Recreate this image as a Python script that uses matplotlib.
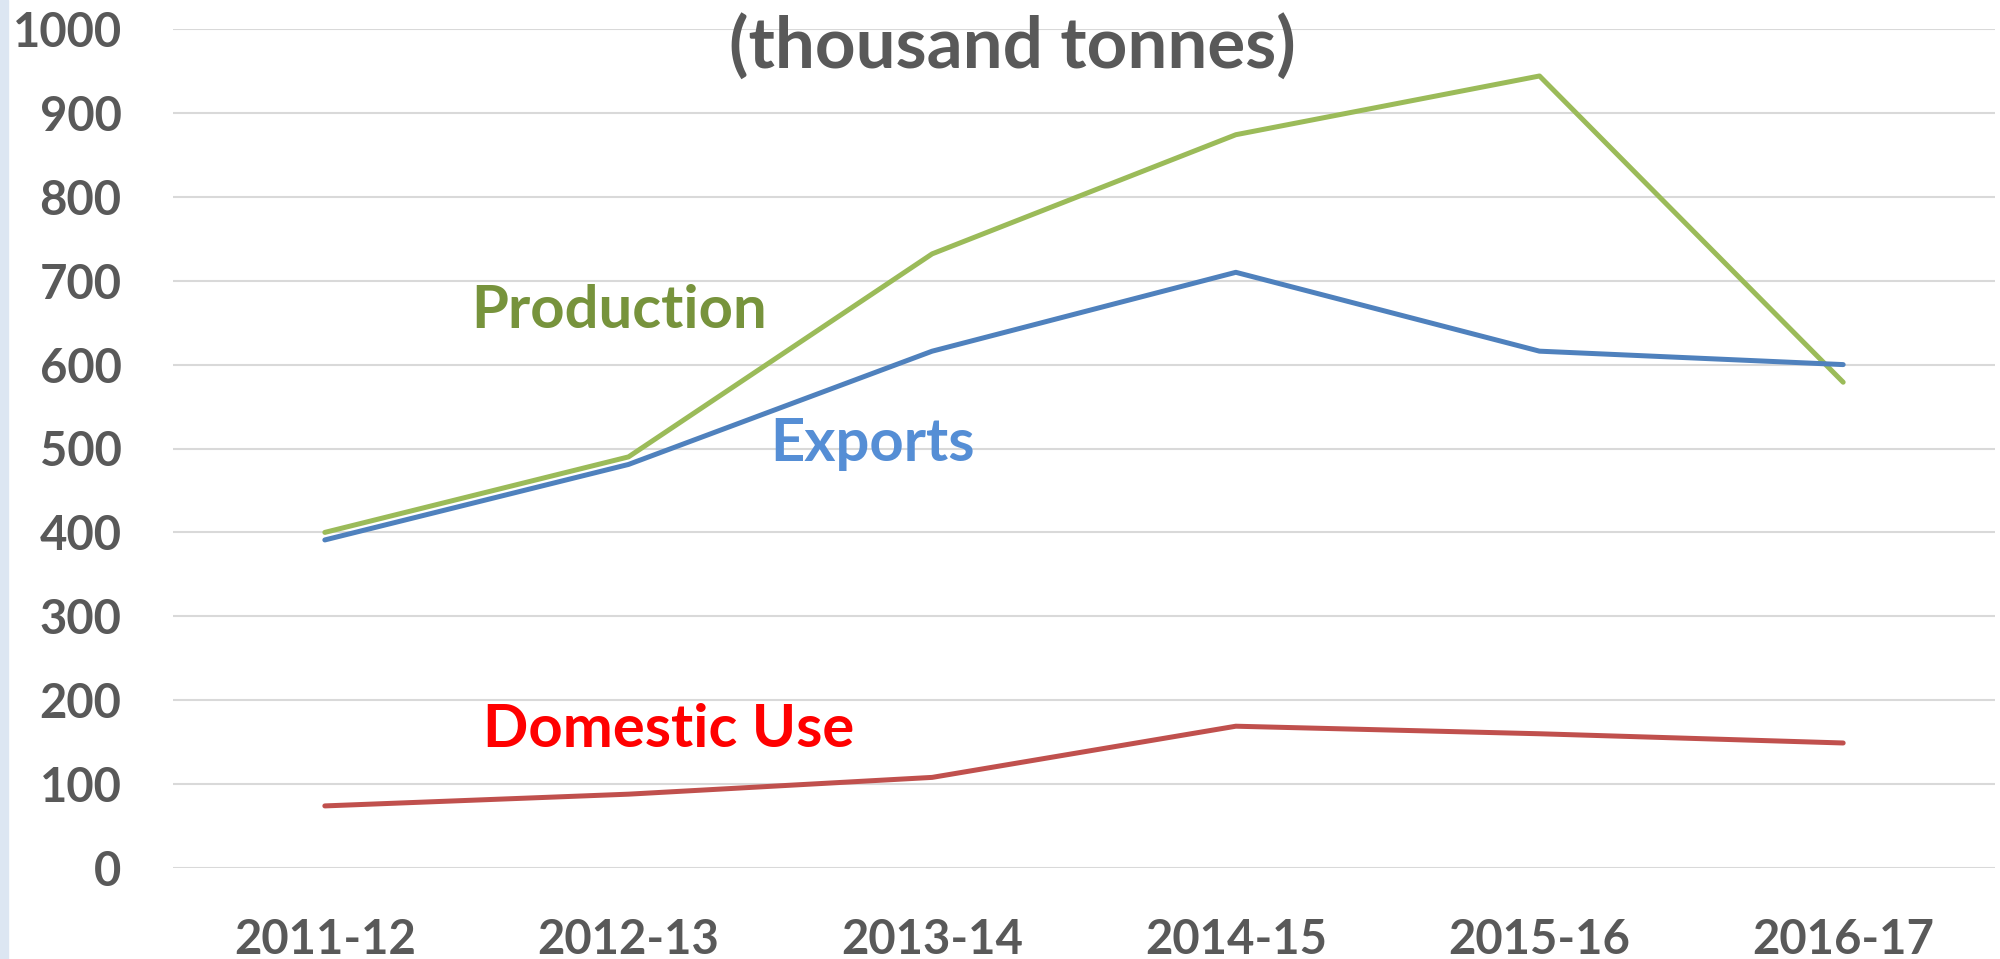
import numpy as np
import matplotlib
matplotlib.use('Agg')
from matplotlib import pyplot as plt
from matplotlib.patches import Rectangle

# Data (thousand tonnes)
seasons = ['2011-12', '2012-13', '2013-14', '2014-15', '2015-16', '2016-17']
production = [400, 490, 732, 874, 944, 579]
exports = [391, 481, 616, 710, 616, 600]
domestic_use = [74, 88, 108, 169, 160, 149]
y_ticks = [0, 100, 200, 300, 400, 500, 600, 700, 800, 900, 1000]

plt.rcParams['font.family'] = ['Lato', 'DejaVu Sans']
text_grey = '#595959'

fig = plt.figure(figsize=[20, 9.59], dpi=100)
ax = fig.add_axes([0.0865, 1 - 868/959, 0.911, (868 - 29)/959])

# light strip on the left edge
fig.patches.append(Rectangle((0, 0), 8/2000, 1, transform=fig.transFigure,
                             color='#DCE6F2', zorder=0))

x = np.arange(len(seasons))
ax.plot(x, production, color='#9BBB59', lw=3.6, solid_capstyle='round', zorder=3)
ax.plot(x, exports, color='#4F81BD', lw=3.6, solid_capstyle='round', zorder=3)
ax.plot(x, domestic_use, color='#C0504D', lw=3.6, solid_capstyle='round', zorder=3)

ax.set_xlim(-0.5, len(seasons) - 0.5)
ax.set_ylim(0, 1000)
ax.set_yticks(y_ticks)
ax.set_xticks(x)
ax.set_xticklabels(seasons)
ax.grid(axis='y', color='#D9D9D9', lw=1.5)
ax.set_axisbelow(True)
for s in ax.spines.values():
    s.set_visible(False)
ax.tick_params(length=0, labelsize=34, labelcolor=text_grey)
ax.tick_params(axis='y', pad=37)
ax.tick_params(axis='x', pad=36)
for lab in ax.get_xticklabels() + ax.get_yticklabels():
    lab.set_fontweight('bold')

# series labels
ax.text(0.97, 664, 'Production', color='#77933C', fontsize=43, fontweight='bold',
        ha='center', va='center')
ax.text(1.805, 505, 'Exports', color='#558ED5', fontsize=43, fontweight='bold',
        ha='center', va='center')
ax.text(1.133, 164, 'Domestic Use', color='#FF0000', fontsize=43, fontweight='bold',
        ha='center', va='center')

fig.text(1012/2000, 1 - 46/959, '(thousand tonnes)', color=text_grey, fontsize=51,
         fontweight='bold', ha='center', va='center')

plt.savefig('out.png', dpi=100)
